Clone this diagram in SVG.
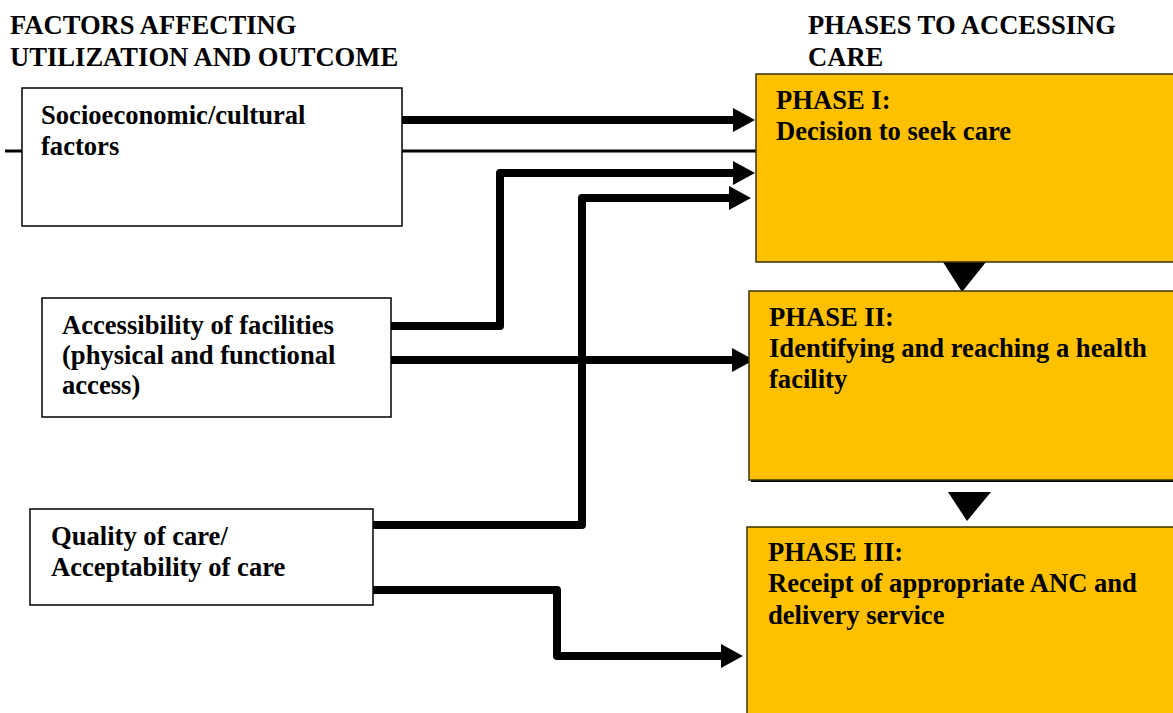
<svg xmlns="http://www.w3.org/2000/svg" width="1173" height="713" viewBox="0 0 1173 713">
<style>
text{font-family:"Liberation Serif","Times New Roman",serif;font-weight:bold;font-size:26.6px;fill:#000}
.factor{fill:#fff;stroke:#000;stroke-width:1.5}
.phase{fill:#FFC000;stroke:#3a3000;stroke-width:1.5}
.thick{fill:none;stroke:#000;stroke-width:8;stroke-linejoin:round}
.thin{fill:none;stroke:#000;stroke-width:3}
</style>
<defs>
<marker id="ah" markerUnits="userSpaceOnUse" markerWidth="22" markerHeight="24" refX="0" refY="12" orient="auto">
<path d="M0,0 L22,12 L0,24 z" fill="#000"/>
</marker>
</defs>
<g id="headings">
<text x="10" y="34">FACTORS AFFECTING</text>
<text x="10" y="66">UTILIZATION AND OUTCOME</text>
<text x="808" y="34">PHASES TO ACCESSING</text>
<text x="808" y="66">CARE</text>
</g>
<g id="connectors">
<line class="thin" x1="5" y1="151" x2="22" y2="151"/>
<line class="thin" x1="402" y1="151" x2="756" y2="151"/>
<polyline class="thick" points="399,120 733,120" marker-end="url(#ah)"/>
<polyline class="thick" points="391,326 500,326 500,173 733,173" marker-end="url(#ah)"/>
<polyline class="thick" points="371,525 582,525 582,198 729,198" marker-end="url(#ah)"/>
<polyline class="thick" points="391,360 732,360" marker-end="url(#ah)"/>
<polyline class="thick" points="372,590 557,590 557,656 721,656" marker-end="url(#ah)"/>
<polygon points="943,262 986,262 962,292" fill="#000"/>
<polygon points="948,492 991,492 967,521" fill="#000"/>
</g>
<g id="socio">
<rect class="factor" x="22" y="88" width="380" height="138"/>
<text x="41" y="124">Socioeconomic/cultural</text>
<text x="41" y="155">factors</text>
</g>
<g id="access">
<rect class="factor" x="42" y="298" width="349" height="119"/>
<text x="62" y="334">Accessibility of facilities</text>
<text x="62" y="364">(physical and functional</text>
<text x="62" y="394">access)</text>
</g>
<g id="quality">
<rect class="factor" x="30" y="509" width="343" height="96"/>
<text x="51" y="545">Quality of care/</text>
<text x="51" y="576">Acceptability of care</text>
</g>
<g id="phase1">
<rect class="phase" x="756" y="74" width="430" height="188"/>
<text x="776" y="109">PHASE I:</text>
<text x="776" y="140">Decision to seek care</text>
</g>
<g id="phase2">
<rect x="751" y="293" width="440" height="189" fill="#000"/>
<rect class="phase" x="749" y="291" width="440" height="189"/>
<text x="769" y="326">PHASE II:</text>
<text x="769" y="357">Identifying and reaching a health</text>
<text x="769" y="388">facility</text>
</g>
<g id="phase3">
<rect class="phase" x="747" y="527" width="440" height="200"/>
<text x="768" y="561">PHASE III:</text>
<text x="768" y="592">Receipt of appropriate ANC and</text>
<text x="768" y="624">delivery service</text>
</g>
</svg>
